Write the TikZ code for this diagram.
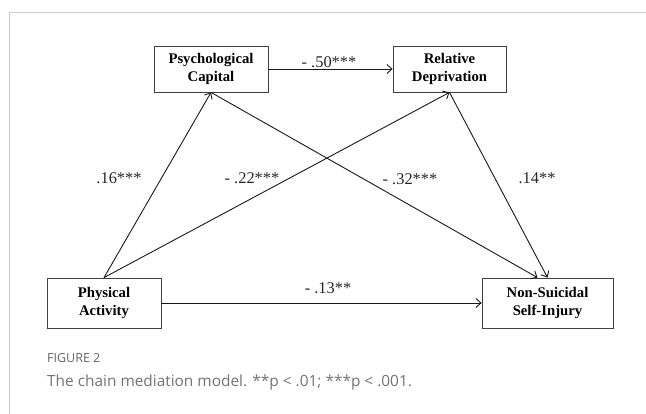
\documentclass[tikz,border=0pt]{standalone}
\usepackage{fontspec}
\setmainfont{Liberation Serif}
\newfontfamily\captionfont{Open Sans}
\usepackage{tikz}
\usetikzlibrary{arrows.meta}

\tikzset{
  varbox/.style={draw=black!75, line width=0.8pt, fill=white, align=center, inner sep=0pt,
    font=\bfseries\fontsize{14.7}{18}\selectfont},
  effect/.style={->, line width=0.9pt, black!90},
  coef/.style={font=\fontsize{16.4}{18}\selectfont, text=black!85, inner sep=0pt}
}

\begin{document}
\begin{tikzpicture}[x=1pt, y=1pt, >={Straight Barb[length=5pt, width=9pt]}]
  \useasboundingbox (0,0) rectangle (646,414);
  % --- Frame ---
  \draw[black!20, line width=0.8pt] (646,402) -- (9,402) -- (9,0);

  % --- Variables ---
  \node[varbox, minimum width=114pt, minimum height=46pt] (psycap) at (211,345) {Psychological\\Capital};
  \node[varbox, minimum width=113pt, minimum height=46pt] (reldep) at (449.5,345) {Relative\\Deprivation};
  \node[varbox, minimum width=114pt, minimum height=50pt] (physact) at (104,111) {Physical\\Activity};
  \node[varbox, minimum width=131pt, minimum height=50pt] (nssi) at (547.5,111) {Non-Suicidal\\Self-Injury};

  % --- Paths ---
  \draw[effect] (psycap.east) -- (reldep.west);
  \draw[effect] (physact.north) -- (psycap.south);
  \draw[effect] (physact.north) -- (reldep.south);
  \draw[effect] (psycap.south) -- ([xshift=-10pt]nssi.north);
  \draw[effect] (reldep.south) -- (nssi.north);
  \draw[effect] (physact.east) -- (nssi.west);

  % --- Coefficients ---
  \node[coef] (c50) at (329,352) {- .50***};
  \node[coef] (c16) at (119,236) {.16***};
  \node[coef] (c22) at (252,236) {- .22***};
  \node[coef] (c32) at (410,235) {- .32***};
  \node[coef] (c14) at (537,236) {.14**};
  \node[coef] (c13) at (328,126) {- .13**};

  % --- Caption ---
  \node[anchor=west, inner sep=0pt, text=black!60, font=\captionfont\fontsize{12.5}{15}\selectfont] (fig) at (47,56) {FIGURE 2};
  \node[anchor=west, inner sep=0pt, text=black!55, font=\captionfont\fontsize{15.4}{18}\selectfont] (cap) at (47,31) {The chain mediation model. **p < .01; ***p < .001.};
\end{tikzpicture}
\end{document}
